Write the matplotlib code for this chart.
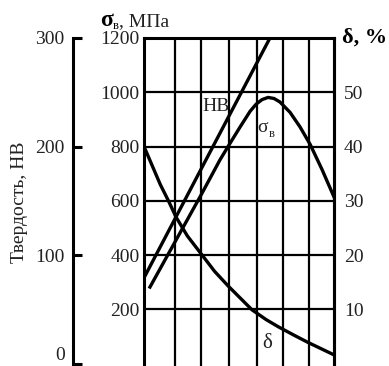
import matplotlib
matplotlib.use("Agg")
import matplotlib.pyplot as plt

plt.rcParams['font.family'] = ['Liberation Serif', 'DejaVu Serif']

# x in grid units (no scale is printed on the x axis)
grid_x = [0, 1.14, 2.10, 3.13, 4.16, 5.12, 6.08, 7.0]

# hardness HB (left outer axis)
hb_x = [0, 4.64]
hb_val = [79, 300]

# ultimate strength, MPa
sig_x = [0.22, 1.14, 2.10, 2.80, 3.17, 3.54, 3.91, 4.13, 4.35, 4.57, 4.79, 5.01, 5.38, 5.75, 6.12, 6.56, 7.0]
sig_val = [282, 448, 621, 751, 812, 872, 930, 956, 973, 981, 977, 964, 926, 872, 808, 715, 614]

# elongation, %
del_x = [0, 0.3, 0.6, 0.9, 1.18, 1.6, 2.14, 2.6, 3.1, 3.5, 3.98, 4.5, 4.94, 5.5, 6.04, 6.5, 7.0]
del_val = [40, 36.5, 33, 30, 27, 23.5, 20, 17, 14.3, 12.3, 9.9, 8.1, 6.8, 5.3, 3.9, 2.8, 1.6]

sig_ticks = [200, 400, 600, 800, 1000, 1200]
hb_ticks = [0, 100, 200, 300]
del_ticks = [10, 20, 30, 40, 50]

fig = plt.figure(figsize=(3.89, 3.66), dpi=100)
ax = fig.add_axes([144 / 389, 0, 190 / 389, 1 - 38 / 366])

y_lo = -9
ax.set_xlim(0, 7)
ax.set_ylim(y_lo, 1200)

for gx in grid_x[1:-1]:
    ax.axvline(gx, color='black', lw=1.6, zorder=1)
for gy in sig_ticks[:-1]:
    ax.axhline(gy, color='black', lw=1.6, zorder=1)

ax.plot(sig_x, sig_val, color='black', lw=2.4, zorder=3)
ax.plot(del_x, [d * 20 for d in del_val], color='black', lw=2.4, zorder=3)

ax.set_xticks([])
ax.set_yticks(sig_ticks)
ax.tick_params(axis='y', length=0, pad=3, labelsize=14, labelcolor='#222222')
for s in ['left', 'right', 'top']:
    ax.spines[s].set_linewidth(2.2)
ax.spines['bottom'].set_visible(False)

# HB axis on the far left
ax2 = ax.twinx()
ax2.set_ylim(y_lo / 4, 300)
ax2.plot(hb_x, hb_val, color='black', lw=2.4, zorder=3)
ax2.yaxis.set_ticks_position('left')
ax2.yaxis.set_label_position('left')
for s in ['right', 'top', 'bottom']:
    ax2.spines[s].set_visible(False)
ax2.spines['left'].set_position(('axes', -71 / 190))
ax2.spines['left'].set_bounds(0, 300)
ax2.spines['left'].set_linewidth(2.2)
ax2.set_yticks(hb_ticks)
ax2.tick_params(axis='y', direction='in', length=6.5, width=2.2, pad=6,
                labelsize=14, labelcolor='#222222')
ax2.get_yticklabels()[0].set_verticalalignment('bottom')
ax2.set_ylabel('Твердость, НВ', fontsize=14, color='#222222')
ax2.yaxis.set_label_coords(-0.61, 0.5)
ax2.set_xlim(0, 7)

# elongation axis on the right
ax3 = ax.twinx()
ax3.set_ylim(y_lo / 20, 60)
ax3.set_yticks(del_ticks)
ax3.tick_params(axis='y', length=0, pad=7, labelsize=14, labelcolor='#222222')
for s in ['left', 'top', 'bottom']:
    ax3.spines[s].set_visible(False)
ax3.spines['right'].set_linewidth(2.2)

# curve labels
ax.text(2.65, 946, 'HB', fontsize=14, ha='center', va='center', color='#222222')
ax.text(4.38, 870, 'σ', fontsize=14, ha='center', va='center', color='#222222')
ax.text(4.71, 845, 'в', fontsize=9, ha='center', va='center', color='#222222')
ax.text(4.53, 75, 'δ', fontsize=15, ha='center', va='center', color='#222222')

# axis titles
fig.text(100 / 389, 1 - 26 / 366, 'σ', fontsize=17, weight='bold', va='baseline')
fig.text(113 / 389, 1 - 29 / 366, 'в', fontsize=9, va='baseline')
fig.text(119 / 389, 1 - 26 / 366, ', МПа', fontsize=14, va='baseline', color='#222222')
fig.text(342 / 389, 1 - 38 / 366, 'δ, %', fontsize=16, weight='bold', va='center')

fig.savefig('out.png', dpi=100)
